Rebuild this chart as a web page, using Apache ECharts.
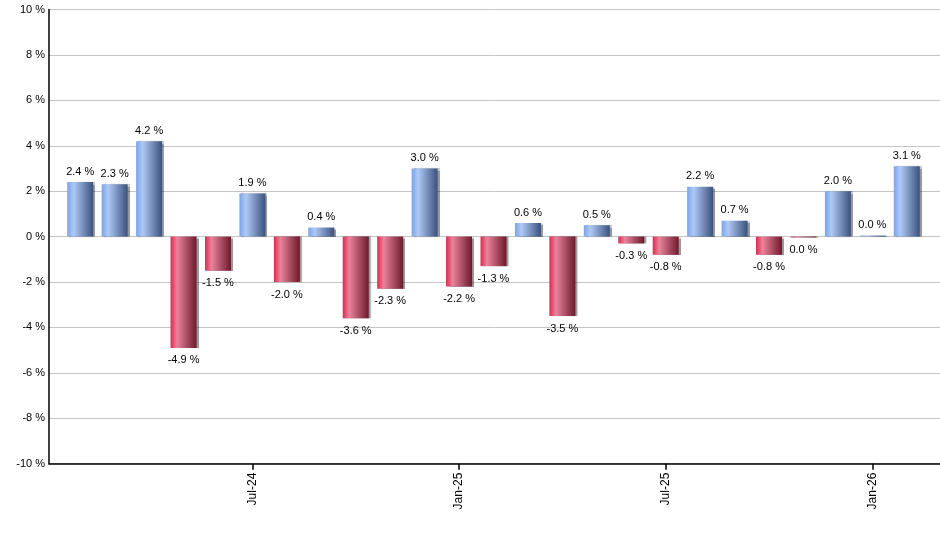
<!DOCTYPE html>
<html>
<head>
<meta charset="utf-8">
<script src="https://cdn.jsdelivr.net/npm/echarts@6/dist/echarts.min.js"></script>
<style>
html,body{margin:0;padding:0;background:#fff;}
#chart{width:940px;height:550px;}
</style>
</head>
<body>
<div id="chart"></div>
<script>
var months = ['Feb-24','Mar-24','Apr-24','May-24','Jun-24','Jul-24','Aug-24','Sep-24','Oct-24','Nov-24','Dec-24','Jan-25','Feb-25','Mar-25','Apr-25','May-25','Jun-25','Jul-25','Aug-25','Sep-25','Oct-25','Nov-25','Dec-25','Jan-26','Feb-26'];
var returns = [2.4, 2.3, 4.2, -4.9, -1.5, 1.9, -2.0, 0.4, -3.6, -2.3, 3.0, -2.2, -1.3, 0.6, -3.5, 0.5, -0.3, -0.8, 2.2, 0.7, -0.8, -0.04, 2.0, 0.04, 3.1];
var yTicks = [-10, -8, -6, -4, -2, 0, 2, 4, 6, 8, 10];

function grad(c0, c1, c2) {
  return new echarts.graphic.LinearGradient(0, 0, 1, 0, [
    {offset: 0, color: c0},
    {offset: 0.25, color: c1},
    {offset: 1, color: c2}
  ]);
}
var blue = grad('#7aa3ec', '#afc9f6', '#3b517c');
var red = grad('#dc2a4e', '#ea839b', '#6c1a2b');

function fmt(v) {
  var s = Math.abs(v) < 0.05 ? '0.0' : v.toFixed(1);
  return s + ' %';
}

var barData = returns.map(function (v) {
  var neg = v < 0;
  return {
    value: v,
    itemStyle: {color: neg ? red : blue},
    label: {position: neg ? 'bottom' : 'top', distance: neg ? 7 : 5}
  };
});

var chart = echarts.init(document.getElementById('chart'), null, {renderer: 'canvas'});
var textFont = 'Liberation Sans, Arial, sans-serif';
chart.setOption({
  animation: false,
  backgroundColor: '#ffffff',
  grid: [
    {left: 49, right: 0, top: 9.5, bottom: 86.3, containLabel: false},
    {left: 63, right: 16, top: 9.5, bottom: 86.3, containLabel: false}
  ],
  xAxis: [
    {
      gridIndex: 0, type: 'value', min: 0, max: 1, position: 'bottom',
      axisLine: {show: true, onZero: false, lineStyle: {color: '#000', width: 1.5}},
      axisTick: {show: false}, axisLabel: {show: false}, splitLine: {show: false}
    },
    {
      gridIndex: 1, type: 'category', data: months, boundaryGap: true,
      axisLine: {show: false, onZero: false},
      axisTick: {
        show: true, alignWithLabel: true, length: 6,
        interval: function (i) { return i % 6 === 5; },
        lineStyle: {color: '#000', width: 1.5}
      },
      axisLabel: {
        interval: function (i) { return i % 6 === 5; },
        rotate: 90, margin: 9, color: '#000', fontSize: 12, fontFamily: textFont
      },
      splitLine: {show: false}
    }
  ],
  yAxis: [
    {
      gridIndex: 0, type: 'value', min: -10, max: 10, interval: 2,
      axisLine: {show: true, lineStyle: {color: '#000', width: 1.5}},
      axisTick: {show: false},
      axisLabel: {
        margin: 4, color: '#000', fontSize: 11, fontFamily: textFont,
        formatter: function (v) { return yTicks.indexOf(v) >= 0 ? v + ' %' : ''; }
      },
      splitLine: {show: true, lineStyle: {color: '#c4c4c4', width: 1}}
    },
    {
      gridIndex: 1, type: 'value', min: -10, max: 10, interval: 2,
      axisLine: {show: false}, axisTick: {show: false}, axisLabel: {show: false},
      splitLine: {show: false}
    }
  ],
  series: [
    {
      type: 'bar', xAxisIndex: 1, yAxisIndex: 1,
      data: barData, barWidth: 26,
      itemStyle: {
        shadowColor: 'rgba(0,0,0,0.4)', shadowBlur: 1, shadowOffsetX: 2, shadowOffsetY: 0
      },
      label: {
        show: true, color: '#000', fontSize: 11, fontFamily: textFont,
        formatter: function (p) { return fmt(p.value); }
      }
    }
  ]
});
</script>
</body>
</html>
